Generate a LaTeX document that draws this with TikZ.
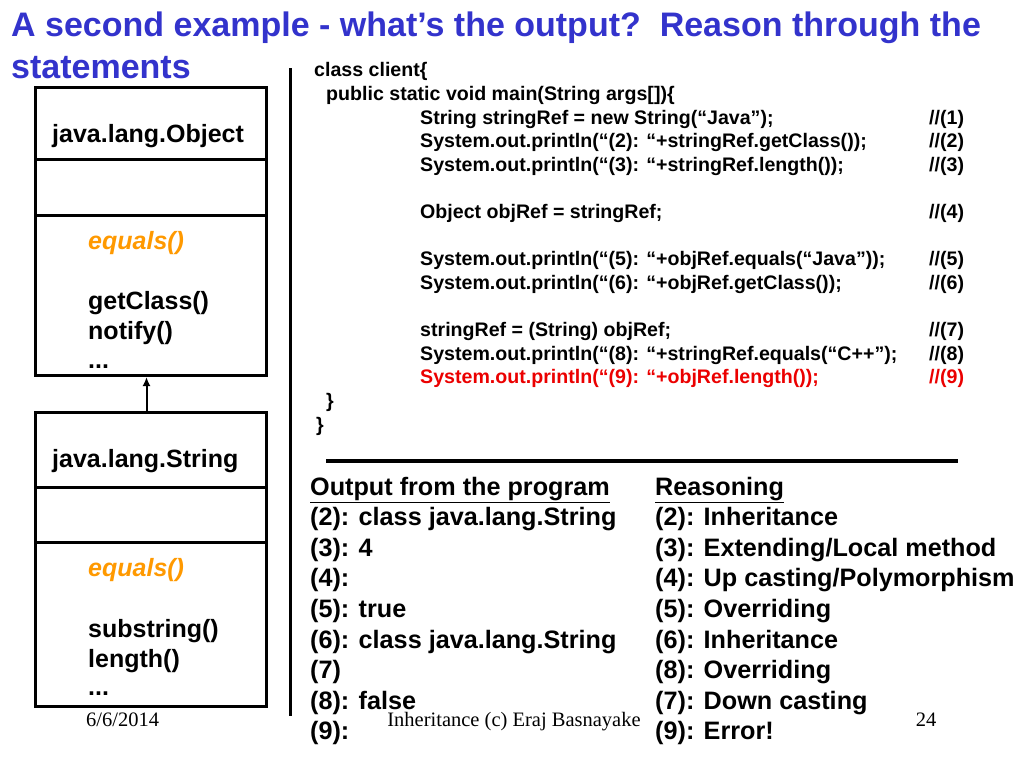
\documentclass[tikz,border=0pt]{standalone}
\usepackage{fontspec}
\setmainfont{Liberation Sans}
\newfontfamily\footfont{Liberation Serif}
\usetikzlibrary{arrows}
\usetikzlibrary{arrows.meta}
\usetikzlibrary{positioning}

\definecolor{titleblue}{RGB}{51,51,204}
\definecolor{methodorange}{RGB}{255,153,0}
\definecolor{errred}{RGB}{235,0,0}

\tikzset{
    umlbox/.style = {draw, line width=3pt, minimum width=231pt, inner sep=0pt},
    titleline/.style = {anchor=base west, inner sep=0pt, text=titleblue, font=\fontsize{34}{34}\selectfont\bfseries},
    codeline/.style = {anchor=base west, inner sep=0pt, font=\fontsize{19.6}{19.6}\selectfont\bfseries},
    umltext/.style = {anchor=base west, inner sep=0pt, font=\fontsize{25}{25}\selectfont\bfseries},
    outline/.style = {anchor=base west, inner sep=0pt, font=\fontsize{25.2}{25.2}\selectfont\bfseries},
    foot/.style = {anchor=base, inner sep=0pt, font=\fontsize{20.5}{20.5}\footfont}
}

\begin{document}
\begin{tikzpicture} [x = 1pt, y = -1pt]

    \useasboundingbox (0,0) rectangle (1024,768);

    % title
    \node [titleline] (title1) at (11,37) {A second example - what’s the output?\ \ Reason through the};
    \node [titleline] (title2) at (11,78) {statements};

    % class boxes
    \node [umlbox, minimum height = 288pt, anchor = north west] (objbox) at (34,86) {};
    \node [umlbox, minimum height = 294pt, anchor = north west] (strbox) at (34,411) {};
    \draw [line width = 3pt] (34,159) -- (265,159);
    \draw [line width = 3pt] (34,215) -- (265,215);
    \draw [line width = 3pt] (34,487) -- (265,487);
    \draw [line width = 3pt] (34,542) -- (265,542);
    \draw [-{Latex[length = 9pt, width = 8pt]}, line width = 2pt] ([xshift = -4.5pt]strbox.north) -- ([xshift = -4.5pt]objbox.south);

    \node [umltext] (objname) at (52,142) {java.lang.Object};
    \node [umltext, text = methodorange] (objeq) at (88,249) {\itshape equals()};
    \node [umltext] (objget) at (88,309) {getClass()};
    \node [umltext] (objnot) at (88,339) {notify()};
    \node [umltext] (objdots) at (88,368) {...};

    \node [umltext] (strname) at (52,467) {java.lang.String};
    \node [umltext, text = methodorange] (streq) at (88,576) {\itshape equals()};
    \node [umltext] (strsub) at (88,637) {substring()};
    \node [umltext] (strlen) at (88,667) {length()};
    \node [umltext] (strdots) at (88,695) {...};

    % separators
    \draw [line width = 3pt] (290,68) -- (290,716);
    \draw [line width = 4pt] (326,461) -- (958,461);

    % program
    \node [codeline] (c0) at (314,77) {class client\{};
    \node [codeline] (c1) at (326,100.6) {public static void main(String args[])\{};
    \node [codeline] (c2) at (420,124.2) {String stringRef = new String(“Java”);};
    \node [codeline] (c3) at (420,147.8) {System.out.println(“(2): “+stringRef.getClass());};
    \node [codeline] (c4) at (420,171.4) {System.out.println(“(3): “+stringRef.length());};
    \node [codeline] (c6) at (420,218.6) {Object objRef = stringRef;};
    \node [codeline] (c8) at (420,265.8) {System.out.println(“(5): “+objRef.equals(“Java”));};
    \node [codeline] (c9) at (420,289.4) {System.out.println(“(6): “+objRef.getClass());};
    \node [codeline] (c11) at (420,336.6) {stringRef = (String) objRef;};
    \node [codeline] (c12) at (420,360.2) {System.out.println(“(8): “+stringRef.equals(“C++”);};
    \node [codeline, text = errred] (c13) at (420,383.8) {System.out.println(“(9): “+objRef.length());};
    \node [codeline] (c14) at (326,407.4) {\}};
    \node [codeline] (c15) at (316,431) {\}};

    \node [codeline] (m1) at (929,124.2) {//(1)};
    \node [codeline] (m2) at (929,147.8) {//(2)};
    \node [codeline] (m3) at (929,171.4) {//(3)};
    \node [codeline] (m4) at (929,218.6) {//(4)};
    \node [codeline] (m5) at (929,265.8) {//(5)};
    \node [codeline] (m6) at (929,289.4) {//(6)};
    \node [codeline] (m7) at (929,336.6) {//(7)};
    \node [codeline] (m8) at (929,360.2) {//(8)};
    \node [codeline, text = errred] (m9) at (929,383.8) {//(9)};

    % output and reasoning
    \node [outline] (outhead) at (310,495) {\underline{Output from the program}};
    \node [outline] (o2) at (310,525.6) {(2): class java.lang.String};
    \node [outline] (o3) at (310,556.2) {(3): 4};
    \node [outline] (o4) at (310,586.8) {(4):};
    \node [outline] (o5) at (310,617.4) {(5): true};
    \node [outline] (o6) at (310,648) {(6): class java.lang.String};
    \node [outline] (o7) at (310,678.6) {(7)};
    \node [outline] (o8) at (310,709.2) {(8): false};
    \node [outline] (o9) at (310,739.8) {(9):};

    \node [outline] (rhead) at (655,495) {\underline{Reasoning}};
    \node [outline] (r2) at (655,525.6) {(2): Inheritance};
    \node [outline] (r3) at (655,556.2) {(3): Extending/Local method};
    \node [outline] (r4) at (655,586.8) {(4): Up casting/Polymorphism};
    \node [outline] (r5) at (655,617.4) {(5): Overriding};
    \node [outline] (r6) at (655,648) {(6): Inheritance};
    \node [outline] (r8) at (655,678.6) {(8): Overriding};
    \node [outline] (r7) at (655,709.2) {(7): Down casting};
    \node [outline] (r9) at (655,739.8) {(9): Error!};

    % footer
    \node [foot, anchor = base west] (date) at (86,726) {6/6/2014};
    \node [foot] (credit) at (514,726) {Inheritance (c) Eraj Basnayake};
    \node [foot] (page) at (926,726) {24};

\end{tikzpicture}
\end{document}
